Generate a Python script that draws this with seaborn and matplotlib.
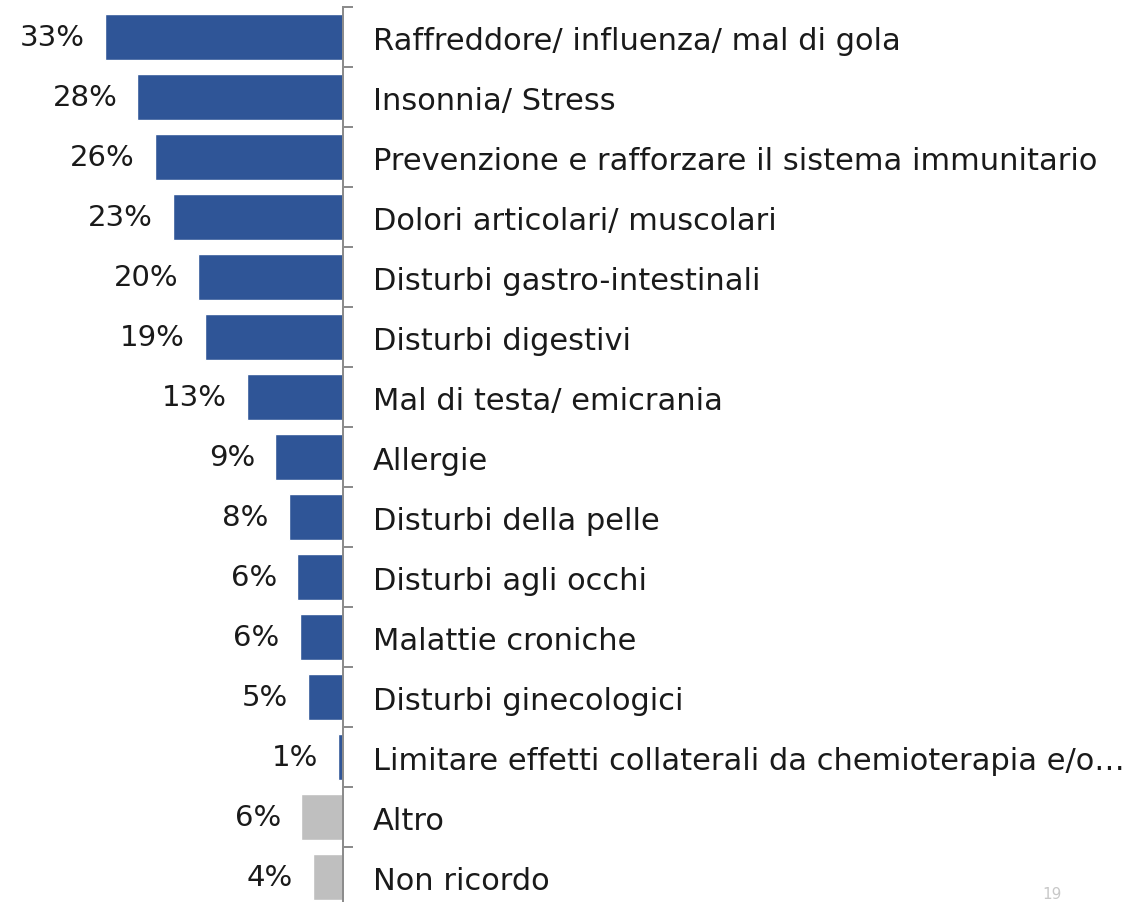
import matplotlib
matplotlib.use("Agg")
import matplotlib.pyplot as plt
import seaborn as sns
import pandas as pd
import numpy as np

# ======================
# Data
# ======================
CATEGORIES = [
    "Raffreddore/ influenza/ mal di gola",
    "Insonnia/ Stress",
    "Prevenzione e rafforzare il sistema immunitario",
    "Dolori articolari/ muscolari",
    "Disturbi gastro-intestinali",
    "Disturbi digestivi",
    "Mal di testa/ emicrania",
    "Allergie",
    "Disturbi della pelle",
    "Disturbi agli occhi",
    "Malattie croniche",
    "Disturbi ginecologici",
    "Limitare effetti collaterali da chemioterapia e/o…",
    "Altro",
    "Non ricordo",
]
VALUES = [32.8, 28.3, 25.9, 23.4, 19.9, 19.0, 13.2, 9.3, 7.4, 6.3, 5.9, 4.8, 0.6, 5.7, 4.1]
VALUE_LABELS = ["33%", "28%", "26%", "23%", "20%", "19%", "13%", "9%", "8%",
                "6%", "6%", "5%", "1%", "6%", "4%"]
IS_OTHER = [False] * 13 + [True, True]

BLUE = "#2F5597"
GREY = "#BFBFBF"
AXIS_GREY = "#8C8C8C"
TEXT = "#1A1A1A"

# ======================
# Plot
# ======================
W, H, DPI = 1126, 903, 100
FONT = ["DejaVu Sans"]
FS_CAT = 22
FS_VAL = 21

df = pd.DataFrame({"cat": CATEGORIES, "val": VALUES, "label": VALUE_LABELS})
palette = {c: (GREY if o else BLUE) for c, o in zip(CATEGORIES, IS_OTHER)}

sns.set_style("white")
plt.rcParams["font.family"] = FONT

fig = plt.figure(figsize=(W / DPI, H / DPI), dpi=DPI)
axis_px = 342.5
top_px = 8
row_px = 60
n = len(CATEGORIES)
bottom_px = top_px + n * row_px
ax = fig.add_axes([0, 1 - bottom_px / H, axis_px / W, n * row_px / H])

sns.barplot(data=df, x="val", y="cat", hue="cat", palette=palette, legend=False,
            orient="h", width=0.77, saturation=1, ax=ax)

px_per_unit = 7.25
ax.set_xlim(axis_px / px_per_unit, 0)
ax.set_ylim(n - 0.5, -0.5)

for i, (v, lab) in enumerate(zip(VALUES, VALUE_LABELS)):
    ax.annotate(lab, xy=(v, i), xytext=(-20 * 72 / DPI, 0), textcoords="offset points",
                ha="right", va="center", fontsize=FS_VAL, color=TEXT)

for s in ["left", "top", "bottom"]:
    ax.spines[s].set_visible(False)
ax.spines["right"].set_color(AXIS_GREY)
ax.spines["right"].set_linewidth(2 * 72 / DPI)

ax.yaxis.tick_right()
ax.set_yticks(np.arange(n))
ax.set_yticklabels(CATEGORIES, fontsize=FS_CAT, color=TEXT)
ax.set_yticks(np.arange(n + 1) - 0.5, minor=True)
ax.tick_params(axis="y", which="major", length=0, pad=30 * 72 / DPI)
ax.tick_params(axis="y", which="minor", length=10 * 72 / DPI, width=2 * 72 / DPI,
               color=AXIS_GREY, direction="out", right=True, left=False)
ax.set_xticks([])
ax.set_xlabel("")
ax.set_ylabel("")

# page number at the bottom right
fig.text(1052 / W, 1 / H, "19", fontsize=11, color="#C8C8C8", ha="center", va="bottom")

fig.savefig("out.png", dpi=DPI)
